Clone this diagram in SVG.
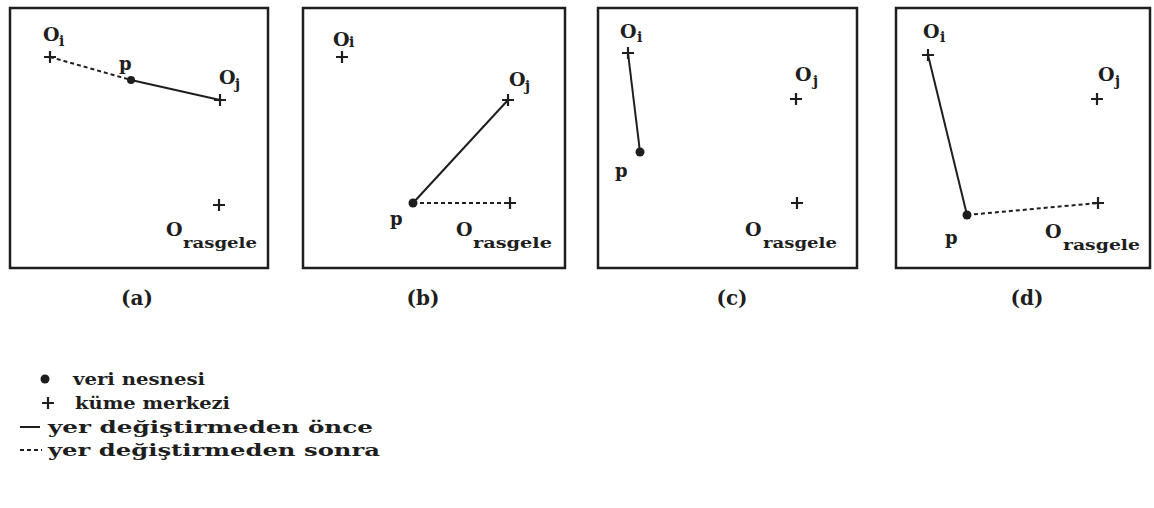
<svg xmlns="http://www.w3.org/2000/svg" xmlns:xlink="http://www.w3.org/1999/xlink" width="1154" height="508" viewBox="0 0 1154 508">
<style>
.box{fill:none;stroke:#1e1e1e;stroke-width:2.5}
.plus{fill:none;stroke:#1e1e1e;stroke-width:2.2}
.dot{fill:#1e1e1e}
.solid{fill:none;stroke:#1e1e1e;stroke-width:2}
.dash{fill:none;stroke:#1e1e1e;stroke-width:2;stroke-dasharray:4 3}
.O{font-family:"DejaVu Serif","Liberation Serif",serif;font-weight:bold;font-size:19px;fill:#1e1e1e}
.sub{font-family:"DejaVu Serif","Liberation Serif",serif;font-weight:bold;font-size:14px;fill:#1e1e1e}
.p{font-family:"DejaVu Serif","Liberation Serif",serif;font-weight:bold;font-size:18px;fill:#1e1e1e}
.cap{font-family:"DejaVu Serif","Liberation Serif",serif;font-weight:bold;font-size:20px;fill:#1e1e1e;text-anchor:middle}
.leg{font-family:"DejaVu Serif","Liberation Serif",serif;font-weight:bold;font-size:17px;fill:#1e1e1e}
</style>
<defs>
<path id="plus" class="plus" d="M-6,0H6M0,-6V6"/>
</defs>
<rect width="1154" height="508" fill="#ffffff"/>

<g id="connectors">
<line class="dash" x1="50" y1="57" x2="131" y2="80"/>
<line class="solid" x1="131" y1="80" x2="220" y2="100"/>
<line class="solid" x1="413" y1="203" x2="508" y2="100"/>
<line class="dash" x1="413" y1="203" x2="510" y2="203"/>
<line class="solid" x1="628" y1="53" x2="640" y2="152"/>
<line class="solid" x1="928" y1="55" x2="967" y2="215"/>
<line class="dash" x1="967" y1="215" x2="1098" y2="203"/>
</g>

<g id="panel-a">
<rect class="box" x="10" y="8" width="258" height="260"/>
<text class="O" x="43" y="41">O</text><text class="sub" x="59" y="46">i</text>
<use xlink:href="#plus" x="50" y="57"/>
<text class="p" x="119" y="70">p</text>
<circle class="dot" cx="131" cy="80" r="4"/>
<text class="O" x="219" y="84">O</text><text class="sub" x="235" y="89">j</text>
<use xlink:href="#plus" x="220" y="100"/>
<use xlink:href="#plus" x="219" y="205"/>
<text class="O" x="166" y="236">O</text><text class="sub" x="183" y="248" textLength="74" lengthAdjust="spacingAndGlyphs">rasgele</text>
<text class="cap" x="137" y="305">(a)</text>
</g>

<g id="panel-b">
<rect class="box" x="303" y="8" width="262" height="260"/>
<text class="O" x="333" y="46">O</text><text class="sub" x="349" y="47">i</text>
<use xlink:href="#plus" x="342" y="57"/>
<text class="O" x="509" y="86">O</text><text class="sub" x="525" y="91">j</text>
<use xlink:href="#plus" x="508" y="100"/>
<circle class="dot" cx="413" cy="203" r="4.5"/>
<text class="p" x="390" y="225">p</text>
<use xlink:href="#plus" x="510" y="203"/>
<text class="O" x="456" y="236">O</text><text class="sub" x="473" y="248" textLength="79" lengthAdjust="spacingAndGlyphs">rasgele</text>
<text class="cap" x="423" y="305">(b)</text>
</g>

<g id="panel-c">
<rect class="box" x="598" y="8" width="259" height="260"/>
<text class="O" x="620" y="38">O</text><text class="sub" x="637" y="42">i</text>
<use xlink:href="#plus" x="628" y="53"/>
<circle class="dot" cx="640" cy="152" r="4.5"/>
<text class="p" x="615" y="177">p</text>
<text class="O" x="795" y="81">O</text><text class="sub" x="813" y="86">j</text>
<use xlink:href="#plus" x="796" y="99"/>
<use xlink:href="#plus" x="797" y="203"/>
<text class="O" x="745" y="236">O</text><text class="sub" x="763" y="248" textLength="74" lengthAdjust="spacingAndGlyphs">rasgele</text>
<text class="cap" x="732" y="305">(c)</text>
</g>

<g id="panel-d">
<rect class="box" x="896" y="8" width="254" height="260"/>
<text class="O" x="923" y="38">O</text><text class="sub" x="940" y="42">i</text>
<use xlink:href="#plus" x="928" y="55"/>
<circle class="dot" cx="967" cy="215" r="4.5"/>
<text class="p" x="945" y="244">p</text>
<text class="O" x="1098" y="81">O</text><text class="sub" x="1115" y="86">j</text>
<use xlink:href="#plus" x="1097" y="99"/>
<use xlink:href="#plus" x="1098" y="203"/>
<text class="O" x="1045" y="238">O</text><text class="sub" x="1063" y="250" textLength="77" lengthAdjust="spacingAndGlyphs">rasgele</text>
<text class="cap" x="1027" y="305">(d)</text>
</g>

<g id="legend">
<circle class="dot" cx="45" cy="379" r="4.5"/>
<text class="leg" x="73" y="385" textLength="132" lengthAdjust="spacingAndGlyphs">veri nesnesi</text>
<use xlink:href="#plus" x="48" y="403"/>
<text class="leg" x="75" y="409" textLength="155" lengthAdjust="spacingAndGlyphs">küme merkezi</text>
<line class="solid" x1="20" y1="427" x2="40" y2="427"/>
<text class="leg" x="48" y="433" textLength="325" lengthAdjust="spacingAndGlyphs">yer değiştirmeden önce</text>
<line class="dash" x1="20" y1="450" x2="42" y2="450"/>
<text class="leg" x="48" y="456" textLength="332" lengthAdjust="spacingAndGlyphs">yer değiştirmeden sonra</text>
</g>
</svg>
